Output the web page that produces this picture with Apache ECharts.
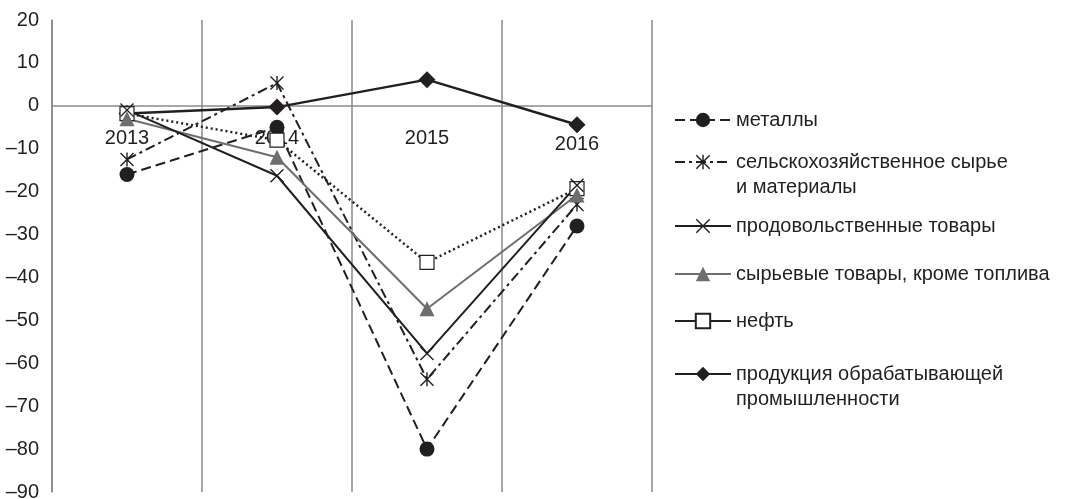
<!DOCTYPE html>
<html>
<head>
<meta charset="utf-8">
<script src="https://cdn.jsdelivr.net/npm/echarts@6/dist/echarts.min.js"></script>
<style>
  html, body { margin: 0; padding: 0; background: #fff; }
  #chart { width: 1066px; height: 499px; }
</style>
</head>
<body>
<div id="chart"></div>
<script>
// Annual change of world prices by commodity group, %
const categories = ['2013', '2014', '2015', '2016'];
const metals       = [-16, -5, -80, -28];
const agriculture  = [-12.5, 5.3, -63.7, -23];
const food         = [-1, -16.3, -57.7, -18.5];
const nonFuel      = [-3, -12, -47.3, -20.8];
const oil          = [-1.8, -8, -36.5, -19.3];
const manufactures = [-1.8, -0.3, 6.1, -4.4];

const yMin = -90, yMax = 20, yStep = 10;

const seriesNames = [
  'металлы',
  'сельскохозяйственное сырье\nи материалы',
  'продовольственные товары',
  'сырьевые товары, кроме топлива',
  'нефть',
  'продукция обрабатывающей\nпромышленности'
];

const INK = '#231f20';
const GREY = '#6d6e71';
const RULE = '#8a8a8a';
const FONT = '"Liberation Sans", Arial, Helvetica, sans-serif';

// plot rectangle
const W = 1066, H = 499;
const gridLeft = 52, gridRight = 414, gridTop = 20, gridBottom = 7;
const plotHeight = H - gridTop - gridBottom;
// the category axis runs along the zero line
const zeroOffset = -(0 - yMin) / (yMax - yMin) * plotHeight;

// marker shapes not built into ECharts
const crossPath = 'path://M0,7 L7,0 L50,43 L93,0 L100,7 L57,50 L100,93 L93,100 L50,57 L7,100 L0,93 L43,50 Z';
const starPath = 'path://M0,7 L7,0 L50,43 L93,0 L100,7 L57,50 L100,93 L93,100 L50,57 L7,100 L0,93 L43,50 Z M45,0 L55,0 L55,100 L45,100 Z';

function line(name, data, opts) {
  return Object.assign({
    name: name,
    type: 'line',
    data: data,
    symbolSize: 15,
    showAllSymbol: true,
    animation: false,
    emphasis: { disabled: true }
  }, opts);
}

// drawing order: later series sit on top
const series = [
  line(seriesNames[5], manufactures, {
    symbol: 'diamond', symbolSize: 17,
    itemStyle: { color: INK },
    lineStyle: { color: INK, width: 2.5 }
  }),
  line(seriesNames[0], metals, {
    symbol: 'circle',
    itemStyle: { color: INK },
    lineStyle: { color: INK, width: 2, type: [10, 5] }
  }),
  line(seriesNames[1], agriculture, {
    symbol: starPath, symbolSize: 14,
    itemStyle: { color: INK },
    lineStyle: { color: INK, width: 2, type: [10, 4, 3, 4] }
  }),
  line(seriesNames[4], oil, {
    symbol: 'rect', symbolSize: 14,
    itemStyle: { color: '#fff', borderColor: INK, borderWidth: 1.2 },
    lineStyle: { color: INK, width: 2.5, type: [2, 3] }
  }),
  line(seriesNames[3], nonFuel, {
    symbol: 'triangle',
    itemStyle: { color: GREY },
    lineStyle: { color: GREY, width: 2 }
  }),
  line(seriesNames[2], food, {
    symbol: crossPath, symbolSize: 14,
    itemStyle: { color: INK },
    lineStyle: { color: INK, width: 2 }
  })
];

// one legend block per entry so each row sits at its own height;
// two-line names get a blank first line so the marker lines up with the first text line
const legendRows = [120, 162, 226, 274, 321, 374];
const legends = seriesNames.map(function (name, i) {
  const twoLine = name.indexOf('\n') >= 0;
  const entry = { name: name };
  if (i === 4) entry.lineStyle = { type: 'solid', width: 2 };
  return {
    left: 674,
    top: legendRows[i] - 9 - (twoLine ? 28.5 : 3.5),
    orient: 'vertical',
    padding: 0,
    itemWidth: 56,
    itemHeight: 18,
    selectedMode: false,
    data: [entry],
    formatter: function (n) { return twoLine ? ' \n' + n : n; },
    textStyle: { fontSize: 20, lineHeight: 25, color: INK, fontFamily: FONT }
  };
});

const chart = echarts.init(document.getElementById('chart'), null, { renderer: 'canvas' });
chart.setOption({
  backgroundColor: '#fff',
  animation: false,
  grid: {
    left: gridLeft, right: gridRight, top: gridTop, bottom: gridBottom,
    containLabel: false, outerBoundsMode: 'none'
  },
  legend: legends,
  xAxis: {
    type: 'category',
    data: categories.map(function (c, i) {
      return i === 3 ? { value: c, textStyle: { padding: [6, 0, 0, 0] } } : c;
    }),
    boundaryGap: true,
    offset: zeroOffset,
    axisLine: { onZero: false, lineStyle: { color: RULE, width: 1.5 } },
    axisTick: { show: false },
    axisLabel: { fontSize: 20, color: INK, fontFamily: FONT, margin: 23 },
    splitLine: { show: true, lineStyle: { color: RULE, width: 1.5 } }
  },
  yAxis: {
    type: 'value',
    min: yMin, max: yMax, interval: yStep,
    axisLine: { show: true, lineStyle: { color: RULE, width: 1.5 } },
    axisTick: { show: false },
    splitLine: { show: false },
    axisLabel: {
      fontSize: 20, color: INK, fontFamily: FONT, margin: 13,
      formatter: function (v) { return String(v).replace('-', '\u2013'); }
    }
  },
  series: series
});
</script>
</body>
</html>
